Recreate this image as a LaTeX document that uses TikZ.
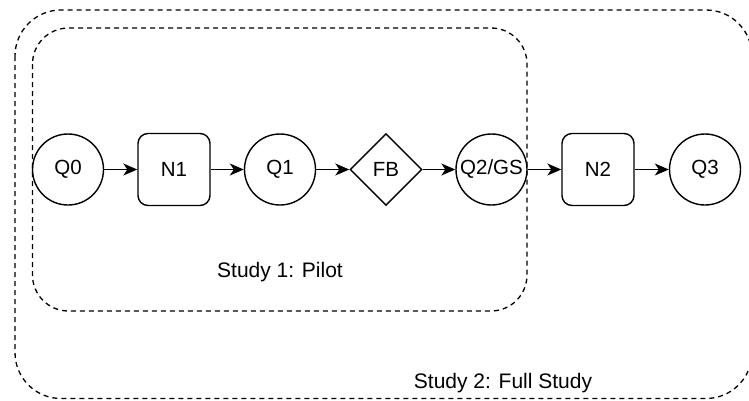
\documentclass[tikz,border=0pt]{standalone}
\usepackage{fontspec}
\setmainfont{Liberation Sans}
\usetikzlibrary{arrows.meta,shapes.geometric}
\begin{document}
\begin{tikzpicture}[x=1pt,y=-1pt,
  nfont/.style={font=\fontsize{20.5}{24}\selectfont},
  circ/.style={circle,draw,line width=1.4pt,minimum size=71pt,inner sep=0pt,nfont},
  rbox/.style={rectangle,rounded corners=10pt,draw,line width=1.4pt,minimum size=72pt,inner sep=0pt,nfont},
  dia/.style={diamond,draw,line width=1.4pt,minimum width=72pt,minimum height=72pt,inner sep=0pt,nfont},
  arr/.style={-{Stealth[length=14pt,width=12pt,inset=4pt]},line width=1.4pt},
  grp/.style={draw,dash pattern=on 5pt off 4pt,line width=1.3pt},
  lbl/.style={font=\fontsize{21}{25}\selectfont}]
\useasboundingbox (0,0) rectangle (749,400);
\draw[grp, rounded corners=46pt] (15,10) rectangle (752,398.5);
\draw[grp, rounded corners=36pt] (32.5,28) rectangle (527,311);
\node[circ] (q0) at (68,169.5) {Q0};
\node[rbox] (n1) at (174,169.5) {N1};
\node[circ] (q1) at (280,169.5) {Q1};
\node[dia]  (fb) at (386,169.5) {FB};
\node[circ] (q2) at (491.5,169.5) {Q2/GS};
\node[rbox] (n2) at (598,169.5) {N2};
\node[circ] (q3) at (705,169.5) {Q3};
\draw[arr] (q0) -- (n1);
\draw[arr] (n1) -- (q1);
\draw[arr] (q1) -- (fb);
\draw[arr] (fb) -- (q2);
\draw[arr] (q2) -- (n2);
\draw[arr] (n2) -- (q3);
\node[lbl] (s1) at (280,272) {Study 1: Pilot};
\node[lbl] (s2) at (503,383) {Study 2: Full Study};
\end{tikzpicture}
\end{document}
